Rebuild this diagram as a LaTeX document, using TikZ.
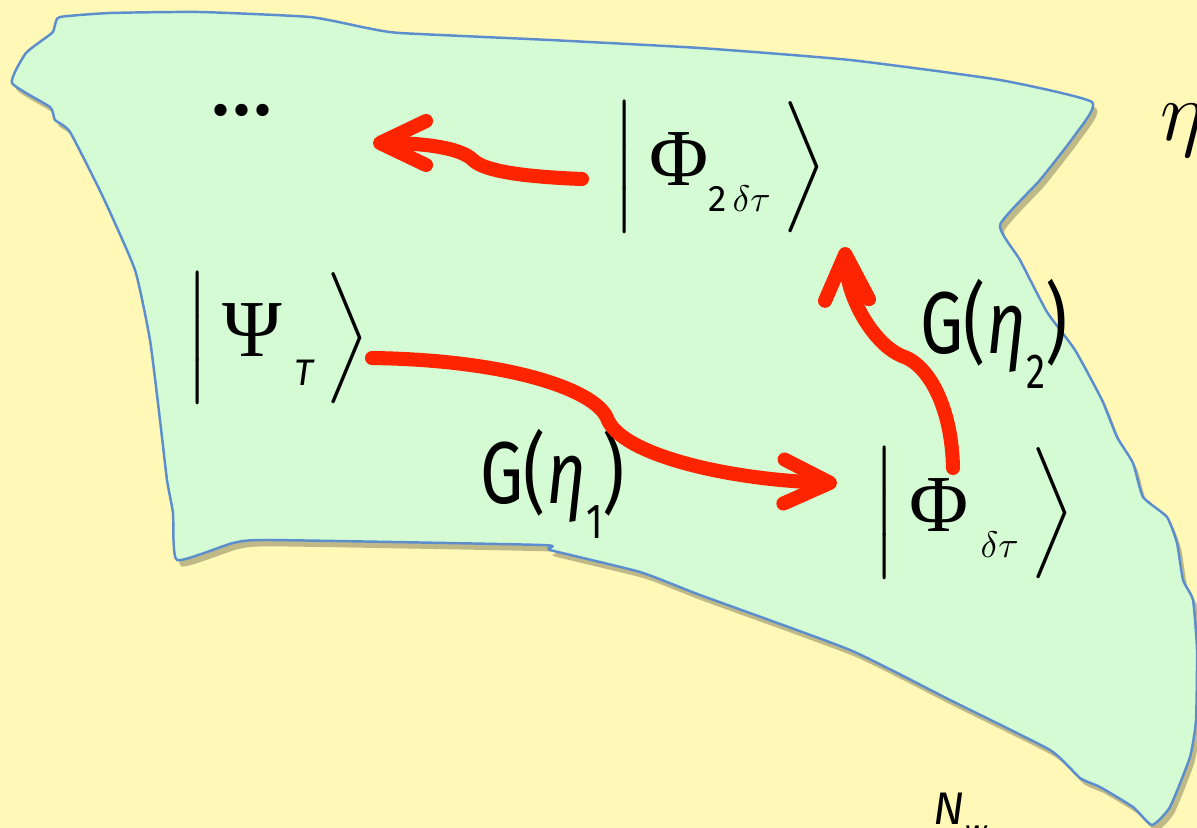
\documentclass[tikz,border=0pt]{standalone}
\usepackage{fix-cm}
\usepackage{amsmath}
\usepackage{fontspec}
\newfontfamily\chalkfont{Fira Sans}
\newfontfamily\timesfont{Liberation Serif}
\usetikzlibrary{arrows.meta,shadows}
\definecolor{paper}{RGB}{255,248,182}
\definecolor{leaf}{RGB}{212,251,212}
\definecolor{rim}{RGB}{92,142,206}
\definecolor{flow}{RGB}{255,36,0}
\newcommand{\ketbox}[1]{\delimiterfactor=1000 \delimitershortfall=0pt
  \left|\vrule height22.75pt depth12.25pt width0pt\,#1\right\rangle}
\newcommand{\bigsym}[1]{\hbox{\timesfont\fontsize{23}{26}\selectfont #1}}

\begin{document}
\begin{tikzpicture}[
  ket/.style={inner sep=0pt, font=\fontsize{21}{25}\selectfont},
  chalk/.style={inner sep=0pt, anchor=base west, xscale=0.78, transform shape, font=\chalkfont\fontsize{25}{30}\selectfont},
  evolve/.style={draw=flow, line width=4pt, line cap=round, -{Straight Barb[round,length=4.6mm,width=4.4mm]},
    preaction={draw=black, opacity=0.12, transform canvas={xshift=1.2pt, yshift=-1.5pt}}}
]
\clip (0,0) rectangle (11.97,-8.28);
\fill[paper] (0,0) rectangle (11.97,-8.28);
\filldraw[fill=leaf, draw=rim, line width=0.7pt, line join=round,
  drop shadow={shadow xshift=1.2pt, shadow yshift=-1.8pt, fill=black, opacity=0.25}]
  plot[smooth cycle, tension=0.3] coordinates {
  (0.60,-0.17) (1.10,-0.13) (2.00,-0.12) (3.10,-0.17) (3.67,-0.28) (4.00,-0.33)
  (5.50,-0.40) (7.00,-0.48) (8.50,-0.60) (10.00,-0.80) (10.92,-1.02) (10.75,-1.35)
  (10.40,-1.80) (10.00,-2.25) (10.20,-2.60) (10.47,-3.12) (10.75,-3.50) (11.02,-4.00)
  (11.17,-4.37) (11.33,-4.63) (11.43,-4.97) (11.67,-5.17) (11.77,-5.43) (11.83,-5.80)
  (11.93,-6.00) (11.97,-6.50) (11.96,-7.20) (11.90,-7.57) (11.70,-8.07) (11.52,-8.25)
  (11.33,-8.07) (11.00,-7.87) (10.80,-7.78) (10.50,-7.50) (9.50,-7.00) (8.50,-6.50)
  (7.00,-5.95) (6.40,-5.72) (5.50,-5.50) (5.42,-5.45) (2.70,-5.40) (2.33,-5.43)
  (1.77,-5.60) (1.73,-5.13) (1.67,-4.80) (1.60,-4.20) (1.50,-3.40) (1.35,-2.70)
  (1.03,-1.97) (0.70,-1.32) (0.55,-1.20) (0.50,-1.07) (0.12,-0.83) (0.26,-0.53)
  (0.52,-0.33) (0.55,-0.25)};

% states
\node[ket] (psi) at (2.78,-3.38) {$\ketbox{\bigsym{Ψ}\,\lower0.4em\hbox{$\scriptscriptstyle\text{\chalkfont\itshape T}$}\,}$};
\node[ket] (phitwo) at (7.20,-1.67) {$\ketbox{\bigsym{Φ}\lower0.35em\hbox{$\scriptscriptstyle\text{\chalkfont 2}\,\delta\tau$}\,}$};
\node[ket] (phione) at (9.74,-5.13) {$\ketbox{\bigsym{Φ}\,\lower0.35em\hbox{$\scriptscriptstyle\delta\tau$}\,}$};
\node[chalk, anchor=center, xscale=1.28] (more) at (2.42,-1.10) {...};

\node[chalk] (gone) at (4.80,-5.03) {G(\textit{η}\raisebox{-0.4em}{\fontsize{14}{14}\selectfont 1})};
\node[chalk] (gtwo) at (9.20,-3.53) {G(\textit{η}\raisebox{-0.4em}{\fontsize{14}{14}\selectfont 2})};
\node[inner sep=0pt, anchor=base west, font=\fontsize{24}{28}\selectfont] (eta) at (11.60,-1.40) {$\eta$};
\node[chalk, xscale=1.28, font=\chalkfont\fontsize{13}{15}\selectfont] (nw) at (9.33,-8.24) {\itshape N\raisebox{-0.4em}{\fontsize{9}{9}\selectfont w}};

\coordinate (psiout) at (3.72,-3.58);
\coordinate (phionein) at (8.37,-4.83);
\coordinate (phioneout) at (9.53,-4.68);
\coordinate (phitwoin) at (8.45,-2.47);
\coordinate (phitwoout) at (5.82,-1.79);
\coordinate (morein) at (3.73,-1.43);

\draw[evolve] (psiout) .. controls (5.1,-3.60) and (5.95,-3.90) .. (6.07,-4.18)
  .. controls (6.2,-4.55) and (7.3,-4.80) .. (phionein);
\draw[evolve] (phioneout) .. controls (9.52,-4.10) and (9.3,-3.65) .. (9.02,-3.56)
  .. controls (8.75,-3.45) and (8.47,-3.0) .. (phitwoin);
\draw[evolve] (phitwoout) .. controls (5.3,-1.77) and (4.85,-1.72) .. (4.73,-1.60)
  .. controls (4.6,-1.47) and (4.2,-1.43) .. (morein);
\end{tikzpicture}
\end{document}
